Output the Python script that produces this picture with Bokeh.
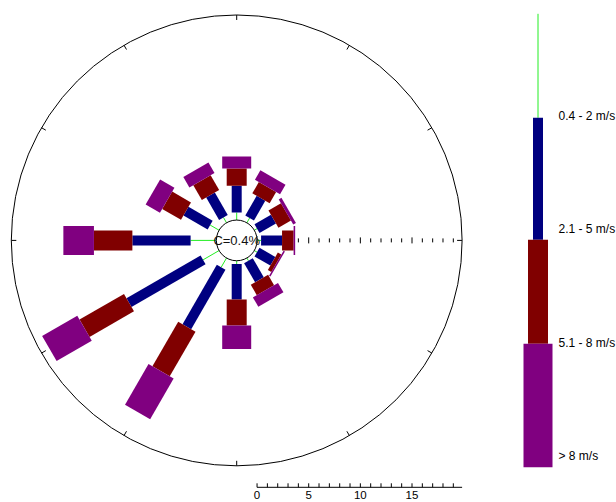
import numpy as np
from bokeh.plotting import figure
from bokeh.models import ColumnDataSource, Range1d
from bokeh.core.properties import value
from bokeh.embed import file_html
from bokeh.resources import INLINE

# ---------------- data ----------------
directions = [0, 30, 60, 90, 120, 150, 180, 210, 240, 270, 300, 330]
speed_bins = ["0.4 - 2 m/s", "2.1 - 5 m/s", "5.1 - 8 m/s", "> 8 m/s"]
freq_04_2 = [0.73, 0.53, 0.30, 0.39, 0.30, 0.30, 0.32, 1.04, 1.79, 2.49, 1.00, 0.60]
freq_21_5 = [2.58, 2.20, 1.84, 2.03, 1.77, 2.13, 3.44, 6.64, 8.28, 5.64, 2.70, 2.50]
freq_51_8 = [1.67, 1.26, 1.40, 1.12, 0.39, 1.16, 2.52, 4.99, 4.97, 3.72, 2.10, 1.66]
freq_gt8 = [1.16, 1.06, 0.30, 0.15, 0.15, 1.06, 2.26, 4.55, 3.93, 2.96, 1.60, 1.17]
calm_label = "C=0.4%"
scale_ticks = [0, 5, 10, 15]
scale_labels = ["0", "5", "10", "15"]

# ---------------- style / layout ----------------
bin_colors = ["#22ee22", "#000080", "#800000", "#800080"]
bin_widths = [1, 10, 20, 29]
FONT = value("Liberation Sans")

W, H = 616, 502
S = 10.33              # px per percent
CX, CY = 236.2, 239.9  # rose centre in px
R0 = 1.97              # calm circle radius (percent units)
R_SPAN = 19.85         # outer circle extent beyond calm circle

def X(px):
    return (px - CX) / S

def Y(py):
    return (CY - py) / S

p = figure(width=W, height=H, output_backend="svg", toolbar_location=None,
           x_range=Range1d(X(0), X(W)), y_range=Range1d(Y(H), Y(0)),
           x_axis_type=None, y_axis_type=None, min_border=0)
p.grid.visible = False
p.outline_line_color = None
p.background_fill_color = "white"
p.border_fill_color = "white"

R_OUT = R0 + R_SPAN

# outer circle
p.circle(x=[0], y=[0], radius=R_OUT, fill_color=None, line_color="black", line_width=1)
# inward ticks on the outer circle
th = np.deg2rad(np.arange(0, 360, 30))
tick_in = 5 / S
p.segment(x0=R_OUT * np.sin(th), y0=R_OUT * np.cos(th),
          x1=(R_OUT - tick_in) * np.sin(th), y1=(R_OUT - tick_in) * np.cos(th),
          line_color="black", line_width=1)

# radial scale ticks towards east
ks = np.arange(0, 20)
half = np.where(ks % 5 == 0, 3.0, 2.0) / S
p.segment(x0=R0 + ks, y0=-half, x1=R0 + ks, y1=half, line_color="black", line_width=1)

# paddles
freqs = np.array([freq_04_2, freq_21_5, freq_51_8, freq_gt8])
cum = np.vstack([np.zeros(len(directions)), np.cumsum(freqs, axis=0)])
dth = np.deg2rad(directions)
for b in range(4):
    r_a = R0 + cum[b]
    r_b = R0 + cum[b + 1]
    src = ColumnDataSource(dict(x0=r_a * np.sin(dth), y0=r_a * np.cos(dth),
                                x1=r_b * np.sin(dth), y1=r_b * np.cos(dth)))
    p.segment(x0="x0", y0="y0", x1="x1", y1="y1", source=src,
              line_color=bin_colors[b], line_width=bin_widths[b], line_cap="butt")

# calm circle
p.circle(x=[0], y=[0], radius=R0, fill_color="white", line_color="black", line_width=1)
p.text(x=[0], y=[0], text=[calm_label], text_font=FONT, text_font_size="13px",
       text_align="center", text_baseline="middle", text_color="#111111")

# legend (vertical paddle key)
leg_x = X(537.5)
leg_edges = [13.3, 117.3, 239.3, 343.3, 466.7]
for b in range(4):
    p.segment(x0=[leg_x], y0=[Y(leg_edges[b])], x1=[leg_x], y1=[Y(leg_edges[b + 1])],
              line_color=bin_colors[b], line_width=bin_widths[b], line_cap="butt")
leg_lab_y = [115, 228.5, 342, 455.5]
p.text(x=[X(558)] * 4, y=[Y(v) for v in leg_lab_y], text=speed_bins, text_font=FONT,
       text_font_size="12px", text_align="left", text_baseline="middle", text_color="black")

# bottom frequency scale
sy = Y(486.8)
p.segment(x0=[R0], y0=[sy], x1=[R0 + R_SPAN], y1=[sy], line_color="black", line_width=1)
p.segment(x0=R0 + ks, y0=[sy] * len(ks), x1=R0 + ks, y1=[sy + 4 / S] * len(ks),
          line_color="black", line_width=1)
p.text(x=[R0 + t for t in scale_ticks], y=[Y(494.3)] * len(scale_ticks), text=scale_labels,
       text_font=FONT, text_font_size="11.5px", text_align="center", text_baseline="middle",
       text_color="black")

open("out.html", "w").write(file_html(p, INLINE))
